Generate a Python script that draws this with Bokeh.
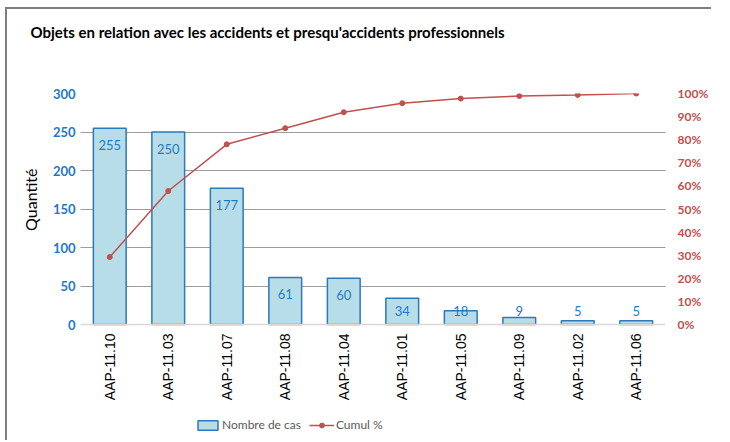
import math
from bokeh.plotting import figure
from bokeh.models import (ColumnDataSource, Range1d, LinearAxis, FixedTicker,
                          NumeralTickFormatter, Legend, LegendItem, Title)
from bokeh.core.properties import value
from bokeh.embed import file_html
from bokeh.resources import INLINE

categories = ["AAP-11.10", "AAP-11.03", "AAP-11.07", "AAP-11.08", "AAP-11.04",
              "AAP-11.01", "AAP-11.05", "AAP-11.09", "AAP-11.02", "AAP-11.06"]
counts = [255, 250, 177, 61, 60, 34, 18, 9, 5, 5]
cumul_pct = [0.292, 0.578, 0.780, 0.850, 0.919, 0.958, 0.978, 0.989, 0.994, 1.000]
left_ticks = [0, 50, 100, 150, 200, 250, 300]
right_ticks = [0, 0.1, 0.2, 0.3, 0.4, 0.5, 0.6, 0.7, 0.8, 0.9, 1.0]

label_y = [max(v - 22, 18) for v in counts]
src = ColumnDataSource(dict(cat=categories, n=counts, pct=cumul_pct,
                            ly=label_y, txt=[str(v) for v in counts]))

# frame extends below the value axis so that tick labels and legend sit inside it
p = figure(x_range=categories, y_range=Range1d(-150.6, 300),
           frame_width=585, frame_height=347,
           output_backend="svg", toolbar_location=None,
           min_border_left=73, min_border_right=10, min_border_top=84,
           min_border_bottom=0)
p.styles = {"margin-left": "5px", "margin-top": "7px",
            "border-top": "2px solid #7f7f7f", "border-left": "2px solid #7f7f7f"}
p.outline_line_color = None
p.extra_y_ranges = {"pct": Range1d(-0.502, 1)}

# spacer panel between the frame and the title
p.add_layout(Title(text=" ", text_font_size="10px", standoff=40), "above")
p.title.text = "Objets en relation avec les accidents et presqu'accidents professionnels"
p.title.text_font = "Lato"
p.title.text_font_size = "15px"
p.title.text_font_style = "bold"
p.title.text_color = "#000000"
p.title.align = "left"
p.title.offset = -50
p.title.standoff = 0

bars = p.vbar(x="cat", top="n", width=0.56, source=src,
              fill_color="#b7dee8", line_color="#2e78bd", line_width=1.5)
p.text(x="cat", y="ly", text="txt", source=src, text_align="center",
       text_baseline="middle", text_color="#1f7bc6",
       text_font=value("Lato"), text_font_size="13px")

line = p.line(x="cat", y="pct", source=src, y_range_name="pct",
              line_color="#c0504d", line_width=1.5)
pts = p.scatter(x="cat", y="pct", source=src, y_range_name="pct",
                size=5, fill_color="#c0504d", line_color="#c0504d")

p.xgrid.grid_line_color = None
p.ygrid.ticker = FixedTicker(ticks=left_ticks[1:])
p.ygrid.grid_line_color = "#3a3a3a"
p.ygrid.grid_line_dash = "1 1"
p.ygrid.grid_line_width = 1

ya = p.yaxis[0]
ya.ticker = FixedTicker(ticks=left_ticks)
ya.axis_line_color = None
ya.major_tick_line_color = None
ya.major_tick_out = 0
ya.major_tick_in = 0
ya.minor_tick_line_color = None
ya.major_label_text_color = "#1f77c9"
ya.major_label_text_font = "Lato"
ya.major_label_text_font_style = "bold"
ya.major_label_text_font_size = "13px"
ya.major_label_standoff = 5

ylab = Title(text="Quantité", text_font="Lato", text_font_size="16px",
             text_font_style="normal", text_color="#000000",
             align="right", offset=75, standoff=20)
p.add_layout(ylab, "left")

ra = LinearAxis(y_range_name="pct", ticker=FixedTicker(ticks=right_ticks),
                formatter=NumeralTickFormatter(format="0%"))
ra.axis_line_color = None
ra.major_tick_line_color = None
ra.major_tick_out = 0
ra.major_tick_in = 0
ra.minor_tick_line_color = None
ra.major_label_text_color = "#c0504d"
ra.major_label_text_font = "Lato"
ra.major_label_text_font_style = "bold"
ra.major_label_text_font_size = "12px"
ra.major_label_standoff = 12
p.add_layout(ra, "right")

xa = p.xaxis[0]
xa.fixed_location = 0
xa.axis_line_color = "#d9d9d9"
xa.axis_line_width = 1.5
xa.major_tick_line_color = None
xa.major_tick_out = 0
xa.major_tick_in = 0
xa.minor_tick_line_color = None
xa.major_label_orientation = math.pi / 2
xa.major_label_text_font = "Liberation Sans"
xa.major_label_text_font_size = "14px"
xa.major_label_text_color = "#000000"
xa.major_label_standoff = 9

legend = Legend(items=[LegendItem(label="Nombre de cas", renderers=[bars]),
                       LegendItem(label="Cumul %", renderers=[line, pts])],
                orientation="horizontal", location=(115, 8),
                label_text_font="Lato", label_text_font_size="12px",
                label_text_color="#595959", border_line_color=None,
                background_fill_alpha=0, glyph_width=25, glyph_height=12,
                label_standoff=2, spacing=8, padding=2, margin=0)
p.add_layout(legend, "center")

open("out.html", "w").write(file_html(p, INLINE))
